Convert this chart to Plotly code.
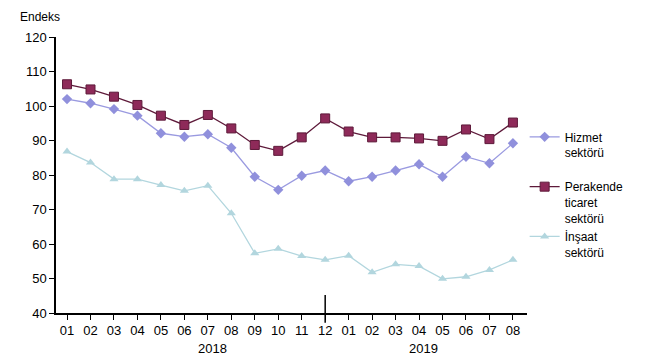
import plotly.graph_objects as go

months = ["01","02","03","04","05","06","07","08","09","10","11","12",
          "01","02","03","04","05","06","07","08"]
years = ["2018", "2019"]
hizmet = [102.0,100.8,99.1,97.2,92.1,91.1,91.8,87.9,79.5,75.7,79.8,81.3,
          78.2,79.5,81.3,83.1,79.5,85.3,83.4,89.2]
perakende = [106.3,104.8,102.7,100.3,97.2,94.5,97.4,93.5,88.7,87.0,90.9,96.4,
             92.6,90.9,90.9,90.6,89.9,93.2,90.4,95.2]
insaat = [86.8,83.6,78.8,78.8,77.1,75.4,76.9,68.9,57.3,58.6,56.5,55.4,
          56.6,51.8,54.1,53.6,49.9,50.5,52.5,55.4]
names = ["Hizmet<br>sektörü<br> ", "Perakende<br>ticaret<br>sektörü", "İnşaat<br>sektörü"]

x = list(range(len(months)))
FONT = "Liberation Sans, Arial, sans-serif"

fig = go.Figure()
fig.add_trace(go.Scatter(x=x, y=hizmet, name=names[0], mode="lines+markers",
                         line=dict(color="#9A9AE0", width=1.3),
                         marker=dict(symbol="diamond", size=8, color="#9090DC"),
                         legendgroup="a"))
fig.add_trace(go.Scatter(x=x, y=perakende, name=names[1], mode="lines+markers",
                         line=dict(color="#5E1A3A", width=1.3),
                         marker=dict(symbol="square", size=9, color="#8E2A59",
                                     line=dict(color="#5E1A3A", width=1)),
                         legendgroup="b"))
fig.add_trace(go.Scatter(x=x, y=insaat, name=names[2], mode="lines+markers",
                         line=dict(color="#B2D6DE", width=1.3),
                         marker=dict(symbol="triangle-up", size=8, color="#B2D6DE"),
                         legendgroup="c"))

# page has an 8px body margin: figure is 642x352, drawn at (8, 8)
fig.update_layout(
    width=642, height=352,
    margin=dict(l=48, r=123, t=29, b=47),
    paper_bgcolor="white", plot_bgcolor="white",
    font=dict(family=FONT, size=13, color="black"),
    showlegend=True,
    legend=dict(x=0.995, y=0.69, xanchor="left", yanchor="top",
                font=dict(size=12), tracegroupgap=0, valign="top",
                bgcolor="rgba(0,0,0,0)"),
    xaxis=dict(range=[-0.47, 19.6], tickmode="array", tickvals=x, ticktext=months,
               showline=True, linecolor="black", linewidth=1.5,
               ticks="outside", ticklen=5, tickcolor="black", showgrid=False,
               zeroline=False, tickfont=dict(size=13)),
    yaxis=dict(range=[40, 120], dtick=10, showline=True, linecolor="black",
               linewidth=1.5, ticks="outside", ticklen=5, tickcolor="black",
               showgrid=False, zeroline=False, tickfont=dict(size=13)),
)

# separator between years
fig.add_shape(type="line", xref="x", yref="paper", x0=x[11], x1=x[11],
              y0=-0.035, y1=0.065, line=dict(color="black", width=1.5))

fig.add_annotation(text="Endeks", xref="paper", yref="paper", x=-0.081, y=1.072,
                   xanchor="left", yanchor="middle", showarrow=False,
                   font=dict(size=12))
fig.add_annotation(text=years[0], xref="x", yref="paper", x=6.2, y=-0.127,
                   yanchor="middle", showarrow=False, font=dict(size=13))
fig.add_annotation(text=years[1], xref="x", yref="paper", x=15.2, y=-0.127,
                   yanchor="middle", showarrow=False, font=dict(size=13))

fig.write_html("out.html")
